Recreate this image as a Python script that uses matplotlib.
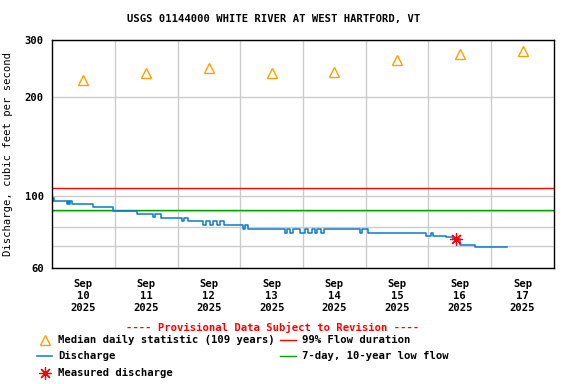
import matplotlib
matplotlib.use("Agg")
import matplotlib.pyplot as plt
from matplotlib.lines import Line2D
from matplotlib.ticker import NullFormatter

# hours since Sep 10 2025 00:00, step values (cfs)
disch_hours = [0, 0.3, 0.8, 5.6, 6.0, 6.5, 6.9, 7.5, 15.6, 23.4, 32.6, 38.5, 39.4,
               41.6, 49.6, 50.3, 51.9, 57.9, 59.0, 60.5, 61.5, 63.0, 64.2, 65.9,
               73.2, 73.8, 75.1, 89.1, 90.0, 91.0, 92.0, 94.9, 96.8, 98.0, 99.5,
               100.5, 101.5, 103.0, 104.0, 117.8, 118.5, 121.0, 143.1, 144.8,
               145.8, 150.7, 153.5, 156.1, 161.8, 173.9]
disch_values = [96.3, 98.3, 96.3, 94.3, 96.3, 94.3, 96.3, 94.3, 92.3, 89.7, 87.7, 86.0, 87.7,
                85.4, 83.6, 85.4, 83.6, 81.3, 83.6, 81.3, 83.6, 81.3, 83.6, 81.3,
                79.0, 81.3, 79.0, 77.0, 79.0, 77.0, 79.0, 77.0, 79.0, 77.0, 79.0,
                77.0, 79.0, 77.0, 79.0, 77.0, 79.0, 77.0, 75.4, 77.0,
                75.4, 74.7, 73.5, 70.8, 69.6, 69.6]

median_hours = [12, 36, 60, 84, 108, 132, 156, 180]
median_values = [226, 238, 247, 237, 240, 261, 271, 277]

measured_hours = [154.5]
measured_values = [73.5]

flow_99 = 105.3
low_flow_7q10 = 90.3

day_labels = ["Sep\n10\n2025", "Sep\n11\n2025", "Sep\n12\n2025", "Sep\n13\n2025",
              "Sep\n14\n2025", "Sep\n15\n2025", "Sep\n16\n2025", "Sep\n17\n2025"]

FONT = "DejaVu Sans Mono"
FS = 7.6
plt.rcParams["font.family"] = FONT
plt.rcParams["font.weight"] = "bold"

fig = plt.figure(figsize=(5.76, 3.84), dpi=100)
ax = fig.add_axes([52 / 576, 1 - 268 / 384, 502 / 576, 228 / 384])

ax.set_yscale("log")
ax.set_xlim(0, 192)
ax.set_ylim(60, 300)

ax.set_yticks([60, 100, 200, 300])
ax.set_yticklabels(["60", "100", "200", "300"])
ax.set_yticks([70, 80, 90], minor=True)
ax.yaxis.set_minor_formatter(NullFormatter())
ax.set_xticks(median_hours)
ax.set_xticklabels(day_labels, linespacing=1.25)
ax.set_xticks([24, 48, 72, 96, 120, 144, 168], minor=True)
ax.tick_params(which="both", length=0)
ax.tick_params(axis="y", pad=6, labelsize=FS)
ax.tick_params(axis="x", pad=8, labelsize=FS)

ax.grid(True, which="both", color="#cccccc", linewidth=1.0)
ax.set_axisbelow(True)
ax.xaxis.grid(True, which="major", alpha=0)
for s in ax.spines.values():
    s.set_linewidth(1.0)

ax.axhline(flow_99, color="#ff0000", linewidth=1.0)
ax.axhline(low_flow_7q10, color="#00a000", linewidth=1.0)
ax.step(disch_hours, disch_values, where="post", color="#0a7ccc", linewidth=1.1)
ax.plot(median_hours, median_values, linestyle="none", marker="^", markersize=7,
        markerfacecolor="none", markeredgecolor="#ffa000", markeredgewidth=1.0)
ax.plot(measured_hours, measured_values, linestyle="none", marker=(8, 2, 0),
        markersize=9, color="#ff0000", markeredgewidth=0.9)

ax.set_ylabel("Discharge, cubic feet per second", fontsize=FS, labelpad=8)

fig.text(274 / 576, 1 - 19 / 384, "USGS 01144000 WHITE RIVER AT WEST HARTFORD, VT",
         ha="center", va="center", fontsize=FS)
fig.text(273 / 576, 1 - 327 / 384, "---- Provisional Data Subject to Revision ----",
         ha="center", va="center", fontsize=FS, color="#ff0000")

# legend drawn by hand
def fx(px):
    return px / 576

def fy(py):
    return 1 - py / 384

fig.add_artist(Line2D([fx(45)], [fy(340)], marker="^", markersize=7, markerfacecolor="none",
                      markeredgecolor="#ffa000", linestyle="none"))
fig.add_artist(Line2D([fx(37), fx(52)], [fy(356), fy(356)], color="#0a7ccc", linewidth=1.1))
fig.add_artist(Line2D([fx(45)], [fy(373)], marker=(8, 2, 0), markersize=9, color="#ff0000",
                      markeredgewidth=0.9, linestyle="none"))
fig.add_artist(Line2D([fx(280), fx(296)], [fy(340), fy(340)], color="#ff0000", linewidth=1.0))
fig.add_artist(Line2D([fx(280), fx(296)], [fy(356), fy(356)], color="#00a000", linewidth=1.0))

fig.text(fx(58), fy(340), "Median daily statistic (109 years)", va="center", fontsize=FS)
fig.text(fx(58), fy(356), "Discharge", va="center", fontsize=FS)
fig.text(fx(58), fy(373), "Measured discharge", va="center", fontsize=FS)
fig.text(fx(302), fy(340), "99% Flow duration", va="center", fontsize=FS)
fig.text(fx(302), fy(356), "7-day, 10-year low flow", va="center", fontsize=FS)

fig.savefig("out.png", dpi=100)
